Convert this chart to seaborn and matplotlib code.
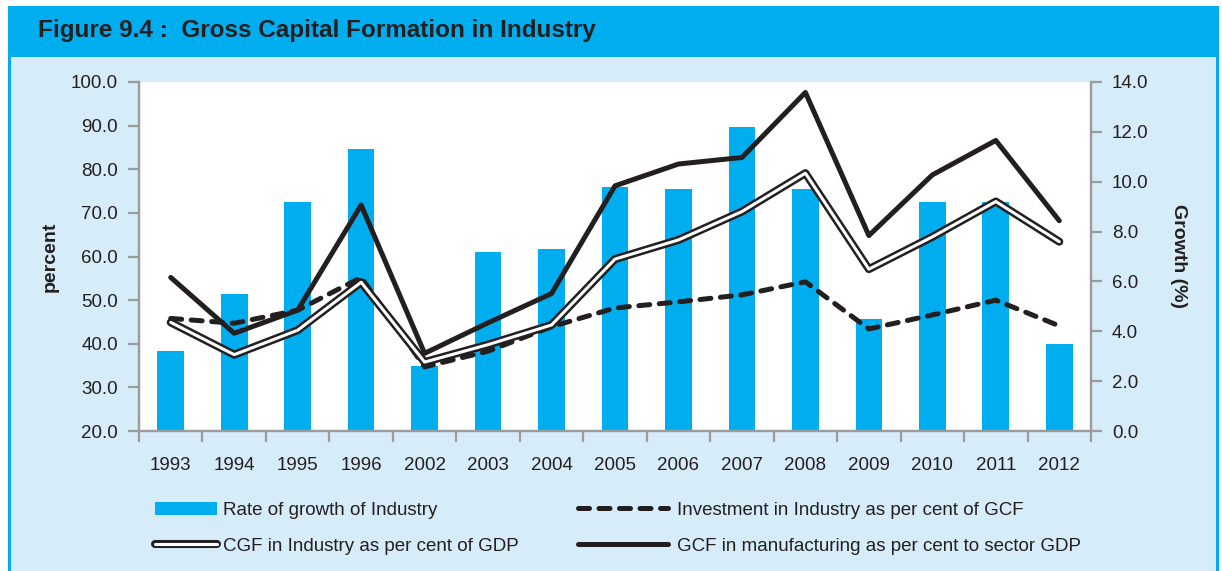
import numpy as np
import pandas as pd
import matplotlib
matplotlib.use("Agg")
import matplotlib.pyplot as plt
import matplotlib.patheffects as pe
from matplotlib.patches import Rectangle, Patch
from matplotlib.lines import Line2D
import seaborn as sns

# ---------- data ----------
years = ["1993", "1994", "1995", "1996", "2002", "2003", "2004", "2005",
         "2006", "2007", "2008", "2009", "2010", "2011", "2012"]
industry_growth = [3.2, 5.5, 9.2, 11.3, 2.6, 7.2, 7.3, 9.8, 9.7, 12.2, 9.7, 4.5, 9.2, 9.2, 3.5]
invest_share_gcf = [45.8, 44.7, 47.7, 55.2, 34.7, 38.3, 43.9, 48.2, 49.6, 51.2, 54.2, 43.4, 46.6, 50.0, 44.1]
cgf_share_gdp = [44.9, 37.5, 43.1, 54.1, 35.8, 39.8, 44.3, 59.4, 63.8, 70.3, 79.1, 57.1, 64.5, 72.6, 63.4]
gcf_manuf = [55.2, 42.4, 47.7, 71.8, 37.8, 44.8, 51.5, 76.2, 81.2, 82.7, 97.6, 64.8, 78.7, 86.6, 68.2]

left_ticks = [20, 30, 40, 50, 60, 70, 80, 90, 100]
right_ticks = [0, 2, 4, 6, 8, 10, 12, 14]

df = pd.DataFrame({"pos": np.arange(len(years)), "year": years,
                   "growth": industry_growth, "invest": invest_share_gcf,
                   "cgf": cgf_share_gdp, "gcf": gcf_manuf})

BLUE = "#00AEEF"
BODY = "#D6ECF9"
GREY = "#9B9B9B"
INK = "#231F20"

sns.set_theme(style="white")
plt.rcParams["font.family"] = ["Liberation Sans Narrow", "Liberation Sans", "DejaVu Sans"]
plt.rcParams["text.color"] = INK
plt.rcParams["axes.labelcolor"] = INK
plt.rcParams["xtick.color"] = INK
plt.rcParams["ytick.color"] = INK

W, H = 1222, 571
fig = plt.figure(figsize=(W / 100, H / 100), dpi=100)
fig.patch.set_facecolor("white")

def fx(px): return px / W
def fy(py): return 1 - py / H

# frame: blue border + title band + light body
fig.add_artist(Rectangle((fx(8), 0), fx(1219) - fx(8), fy(6), transform=fig.transFigure,
                         facecolor=BLUE, edgecolor="none", zorder=-3))
fig.add_artist(Rectangle((fx(11), 0), fx(1216) - fx(11), fy(57), transform=fig.transFigure,
                         facecolor=BODY, edgecolor="none", zorder=-2))
fig.text(fx(38), fy(31), "Figure 9.4 :  Gross Capital Formation in Industry",
         fontsize=17.5, fontweight="bold", va="center", ha="left", color=INK)

# axes
ax2 = fig.add_axes([fx(139), fy(431), fx(1091) - fx(139), fy(82) - fy(431)])
ax2.patch.set_facecolor("white")
ax = ax2.twinx()
ax2.yaxis.tick_right()
ax2.yaxis.set_label_position("right")
ax.yaxis.tick_left()
ax.yaxis.set_label_position("left")

# bars: growth, right scale
sns.barplot(data=df, x="pos", y="growth", ax=ax2, color=BLUE, width=0.42,
            saturation=1, native_scale=True, edgecolor="none")

# lines: percent, left scale
sns.lineplot(data=df, x="pos", y="invest", ax=ax, color=INK, lw=3.6,
             dashes=False, linestyle=(0, (2.2, 1.9)), dash_capstyle="round",
             solid_capstyle="round")
sns.lineplot(data=df, x="pos", y="cgf", ax=ax, color="white", lw=2.2,
             path_effects=[pe.Stroke(linewidth=5.8, foreground=INK), pe.Normal()])
sns.lineplot(data=df, x="pos", y="gcf", ax=ax, color=INK, lw=3.6)

ax.set_ylim(20, 100)
ax.set_yticks(left_ticks)
ax.set_yticklabels([f"{v:.1f}" for v in left_ticks])
ax2.set_ylim(0, 14)
ax2.set_yticks(right_ticks)
ax2.set_yticklabels([f"{v:.1f}" for v in right_ticks])

for a in (ax, ax2):
    a.set_xlim(-0.5, len(years) - 0.5)
    a.set_xticks(np.arange(len(years) + 1) - 0.5)
    a.set_xticklabels([])
    a.set_xticks(np.arange(len(years)), minor=True)
    a.set_xlabel("")
    for s in a.spines.values():
        s.set_color(GREY)
        s.set_linewidth(1.6)
    a.spines["top"].set_visible(False)
ax.set_xticklabels([], minor=True)
ax2.set_xticklabels(years, minor=True)
ax2.tick_params(axis="x", which="major", direction="out", length=8, width=1.6, color=GREY, bottom=True)
ax2.tick_params(axis="x", which="minor", length=0, pad=19, labelsize=13.5)
ax.tick_params(axis="x", which="both", bottom=False, labelbottom=False)
ax.tick_params(axis="y", direction="out", length=8, width=1.6, color=GREY, pad=7, labelsize=13.5)
ax2.tick_params(axis="y", direction="out", length=8, width=1.6, color=GREY, pad=7, labelsize=13.5)

ax.set_ylabel("percent", fontsize=14, fontweight="bold", labelpad=9)
ax2.set_ylabel("Growth (%)", fontsize=14, fontweight="bold", rotation=-90, labelpad=28)

# legend: two columns
h_bar = Patch(facecolor=BLUE, edgecolor="none")
h_cgf = Line2D([], [], color="white", lw=2.2, solid_capstyle="round",
               path_effects=[pe.Stroke(linewidth=5.8, foreground=INK, capstyle="round"), pe.Normal()])
h_inv = Line2D([], [], color=INK, lw=3.6, linestyle=(0, (2.2, 1.9)), dash_capstyle="round")
h_gcf = Line2D([], [], color=INK, lw=3.6)

fig.legend([h_bar, h_cgf], ["Rate of growth of Industry", "CGF in Industry as per cent of GDP"],
           loc="upper left", bbox_to_anchor=(fx(138), fy(485)), frameon=False,
           fontsize=13.5, handlelength=3.3, handletextpad=0.35, labelspacing=1.0)
fig.legend([h_inv, h_gcf], ["Investment in Industry as per cent of GCF",
                            "GCF in manufacturing as per cent to sector GDP"],
           loc="upper left", bbox_to_anchor=(fx(561), fy(485)), frameon=False,
           fontsize=13.5, handlelength=4.8, handletextpad=0.5, labelspacing=1.0)

fig.savefig("out.png", dpi=100, facecolor=fig.get_facecolor())
